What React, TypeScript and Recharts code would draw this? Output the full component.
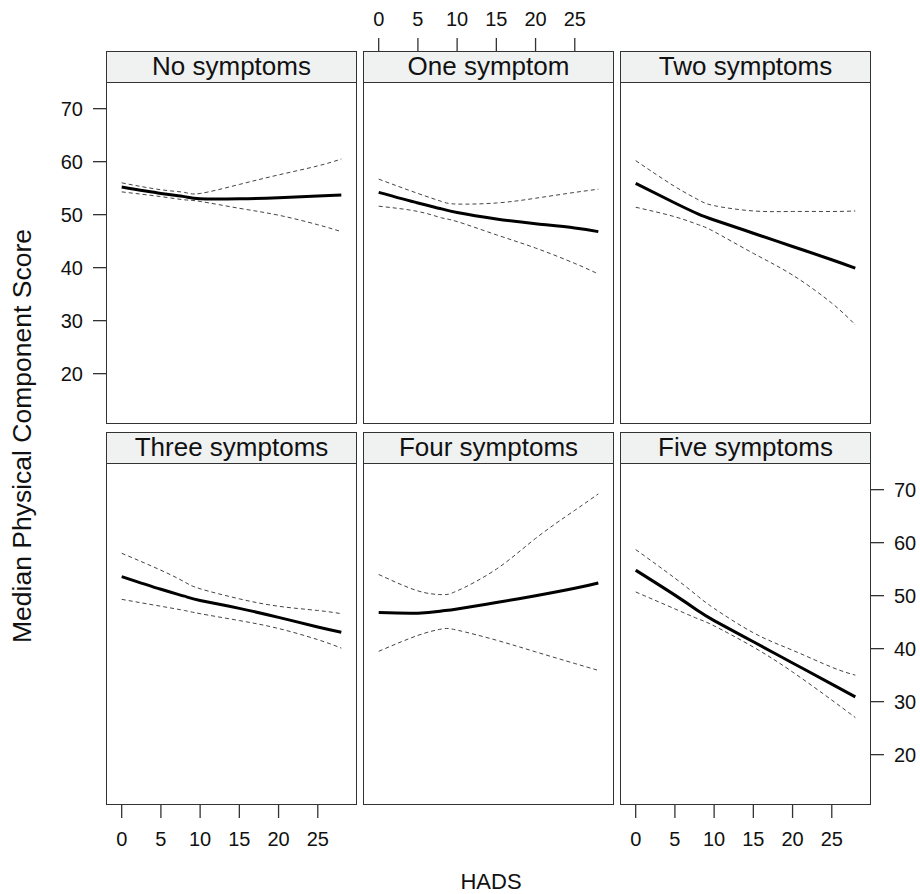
import React from 'react';
import { LineChart, Line, XAxis, YAxis } from 'recharts';

const hads = [0, 5, 8, 10, 15, 20, 25, 28];
const panelTitles = ['No symptoms', 'One symptom', 'Two symptoms', 'Three symptoms', 'Four symptoms', 'Five symptoms'];
const xTicks = [0, 5, 10, 15, 20, 25];
const yTicks = [20, 30, 40, 50, 60, 70];

const fit0 = [55.2, 54.0, 53.4, 53.0, 53.0, 53.2, 53.5, 53.7];
const lo0 = [54.3, 53.4, 52.8, 52.5, 51.2, 49.9, 48.1, 46.8];
const hi0 = [56.0, 54.7, 54.2, 54.0, 55.7, 57.5, 59.2, 60.5];

const fit1 = [54.2, 52.2, 51.1, 50.4, 49.2, 48.3, 47.5, 46.8];
const lo1 = [51.6, 50.6, 49.4, 48.7, 46.2, 43.7, 40.8, 38.8];
const hi1 = [56.7, 54.0, 52.5, 52.0, 52.2, 53.1, 54.2, 54.8];

const fit2 = [55.9, 52.2, 50.1, 49.0, 46.5, 44.0, 41.5, 39.9];
const lo2 = [51.4, 49.6, 48.1, 46.8, 42.7, 38.6, 33.3, 29.2];
const hi2 = [60.2, 55.3, 52.8, 51.7, 50.7, 50.6, 50.6, 50.7];

const fit3 = [53.6, 51.2, 49.9, 49.1, 47.6, 45.9, 44.1, 43.1];
const lo3 = [49.3, 48.0, 47.2, 46.6, 45.3, 43.8, 41.7, 40.1];
const hi3 = [58.0, 54.8, 52.6, 51.3, 49.4, 48.0, 47.2, 46.6];

const fit4 = [46.8, 46.7, 47.1, 47.5, 48.7, 50.0, 51.4, 52.4];
const lo4 = [39.5, 42.5, 43.7, 43.5, 41.6, 39.4, 37.2, 35.9];
const hi4 = [54.0, 50.9, 50.2, 50.9, 55.0, 60.8, 66.1, 69.2];

const fit5 = [54.8, 50.1, 47.1, 45.3, 41.3, 37.3, 33.3, 30.9];
const lo5 = [50.7, 47.5, 45.6, 44.3, 40.3, 35.6, 30.3, 27.0];
const hi5 = [58.7, 53.3, 49.8, 47.6, 43.0, 39.7, 36.5, 35.0];

const fits = [fit0, fit1, fit2, fit3, fit4, fit5];
const los = [lo0, lo1, lo2, lo3, lo4, lo5];
const his = [hi0, hi1, hi2, hi3, hi4, hi5];

const COL_LEFT = [106, 363, 620];
const ROW_TOP = [51, 432];
const PW = 251;
const PH = 373;
const STRIP = 32;
const X_DOMAIN = [-2, 30];
const Y_DOMAIN = [10.5, 80.88];
const FONT = '"Liberation Sans", Arial, sans-serif';
const AX = '#333';

function Panel({ idx }: { idx: number }) {
  const c = idx % 3;
  const r = Math.floor(idx / 3);
  const data = hads.map((x, i) => ({ x, fit: fits[idx][i], lo: los[idx][i], hi: his[idx][i] }));
  const topAxis = r === 0;
  const bottomAxis = r === 1;
  const leftY = c === 0;
  const rightY = c === 2;
  const xLabels = (r === 0 && c === 1) || (r === 1 && c !== 1);
  const yLabels = (r === 0 && c === 0) || (r === 1 && c === 2);
  const AH = 60;
  const AW = 100;
  const margin = {
    top: topAxis ? 0 : AH,
    bottom: bottomAxis ? 0 : AH,
    left: leftY ? 0 : AW,
    right: rightY ? 0 : AW,
  };
  const tickStyle = { fontSize: 20, fill: '#111', fontFamily: FONT };
  return (
    <div style={{ position: 'absolute', left: COL_LEFT[c] - AW, top: ROW_TOP[r] - AH }}>
      <LineChart width={PW + 2 * AW} height={PH + 2 * AH} data={data} margin={margin}>
        <XAxis
          dataKey="x"
          type="number"
          domain={X_DOMAIN}
          ticks={xTicks}
          allowDataOverflow
          orientation={topAxis ? 'top' : 'bottom'}
          height={AH}
          axisLine={false}
          tickSize={13}
          tickMargin={topAxis ? 12 : 14}
          tickLine={{ stroke: AX, strokeWidth: 1.3 }}
          tick={xLabels ? tickStyle : false}
          interval={0}
        />
        <YAxis
          type="number"
          domain={Y_DOMAIN}
          ticks={yTicks}
          allowDataOverflow
          hide={!leftY && !rightY}
          orientation={rightY ? 'right' : 'left'}
          width={AW}
          axisLine={false}
          tickSize={13}
          tickMargin={10}
          tickLine={{ stroke: AX, strokeWidth: 1.3 }}
          tick={yLabels ? tickStyle : false}
          interval={0}
        />
        <Line type="natural" dataKey="hi" stroke="#444" strokeWidth={1} strokeDasharray="4 3" dot={false} isAnimationActive={false} />
        <Line type="natural" dataKey="lo" stroke="#444" strokeWidth={1} strokeDasharray="4 3" dot={false} isAnimationActive={false} />
        <Line type="natural" dataKey="fit" stroke="#000" strokeWidth={3} dot={false} isAnimationActive={false} />
      </LineChart>
      <div
        style={{
          position: 'absolute',
          left: AW,
          top: AH,
          width: PW,
          height: PH,
          border: `1.3px solid ${AX}`,
          boxSizing: 'border-box',
          pointerEvents: 'none',
        }}
      />
      <div
        style={{
          position: 'absolute',
          left: AW,
          top: AH,
          width: PW,
          height: STRIP,
          background: '#f0f1f1',
          border: `1.3px solid ${AX}`,
          boxSizing: 'border-box',
          fontFamily: FONT,
          fontSize: 26,
          lineHeight: `${STRIP - 3}px`,
          textAlign: 'center',
          color: '#111',
          whiteSpace: 'nowrap',
        }}
      >
        {panelTitles[idx]}
      </div>
    </div>
  );
}

export default function App() {
  return (
    <div style={{ position: 'absolute', left: 0, top: 0, width: 920, height: 894, background: '#fff', fontFamily: FONT, overflow: 'hidden' }}>
      {[0, 1, 2, 3, 4, 5].map((i) => (
        <Panel key={i} idx={i} />
      ))}
      <div
        style={{
          position: 'absolute',
          left: 22,
          top: 436,
          transform: 'translate(-50%, -50%) rotate(-90deg)',
          fontSize: 26.5,
          color: '#111',
          whiteSpace: 'nowrap',
        }}
      >
        Median Physical Component Score
      </div>
      <div
        style={{
          position: 'absolute',
          left: 491,
          top: 882,
          transform: 'translate(-50%, -50%)',
          fontSize: 22,
          color: '#111',
          whiteSpace: 'nowrap',
        }}
      >
        HADS
      </div>
    </div>
  );
}
